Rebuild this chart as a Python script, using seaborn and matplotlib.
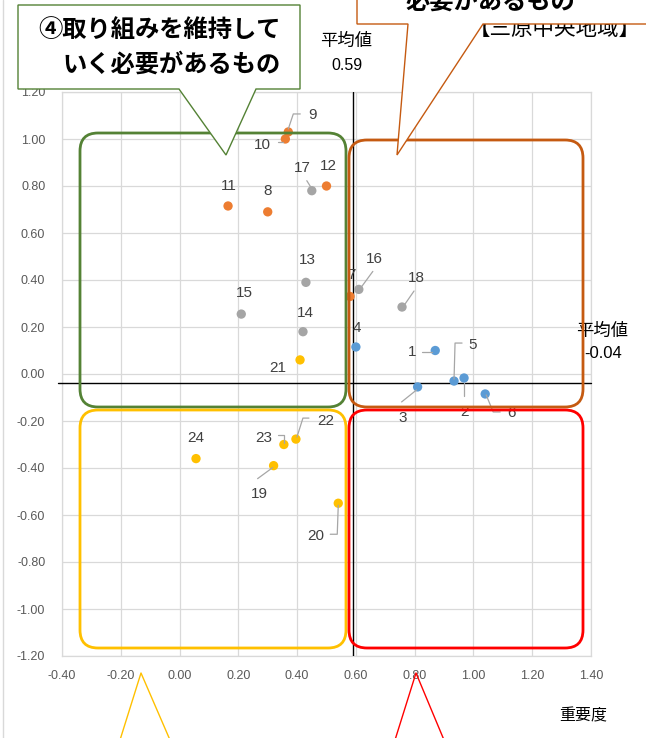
import numpy as np
import pandas as pd
import matplotlib
matplotlib.use("Agg")
import matplotlib.pyplot as plt
import seaborn as sns
from matplotlib.patches import FancyBboxPatch, Polygon
from matplotlib.lines import Line2D
from matplotlib.transforms import IdentityTransform

# ---------------- data ----------------
item_ids = [str(i) for i in range(1, 25)]
importance = [0.87, 0.968, 0.81, 0.60, 0.934, 1.04,
              0.58, 0.30, 0.37, 0.36, 0.165, 0.50,
              0.43, 0.42, 0.21, 0.61, 0.45, 0.757,
              0.32, 0.54, 0.41, 0.396, 0.355, 0.056]
satisfaction = [0.10, -0.017, -0.055, 0.115, -0.03, -0.085,
                0.33, 0.69, 1.03, 1.00, 0.715, 0.80,
                0.39, 0.18, 0.255, 0.36, 0.78, 0.285,
                -0.39, -0.55, 0.06, -0.277, -0.30, -0.36]
groups = ["A"] * 6 + ["B"] * 6 + ["C"] * 6 + ["D"] * 6
group_colors = {"A": "#5B9BD5", "B": "#ED7D31", "C": "#A5A5A5", "D": "#FFC000"}
mean_importance = 0.59
mean_satisfaction = -0.04
x_ticks = [-0.40, -0.20, 0.00, 0.20, 0.40, 0.60, 0.80, 1.00, 1.20, 1.40]
y_ticks = [-1.20, -1.00, -0.80, -0.60, -0.40, -0.20, 0.00, 0.20, 0.40, 0.60, 0.80, 1.00, 1.20]

df = pd.DataFrame({"id": item_ids, "x": importance, "y": satisfaction, "g": groups})

# label offsets in pixels (dx, dy with y downward) and leader polylines
label_off = {
    "9": (24, -17), "10": (-23, 6), "11": (1, -20), "8": (0, -21), "17": (-9, -23),
    "12": (2, -20), "13": (1, -22), "15": (3, -21), "14": (2, -19), "21": (-22, 8),
    "7": (1, -21), "16": (16, -30), "18": (14, -29), "4": (1, -19), "1": (-23, 2),
    "5": (19, -36), "2": (0, 34), "3": (-15, 31), "6": (26, 19), "24": (0, -21),
    "23": (-20, -7), "22": (30, -18), "19": (-14, 28), "20": (-23, 33),
}
leaders = {
    "9": [(0, -3), (5, -18), (12, -18)],
    "10": [(-7, 3), (-2, 3)],
    "17": [(-5, -10), (0, -2)],
    "16": [(14, -18), (3, -3)],
    "18": [(12, -16), (3, -3)],
    "1": [(-13, 1), (-3, 1)],
    "5": [(8, -38), (1, -38), (0, -2)],
    "2": [(0, 5), (0, 18)],
    "3": [(-1, 3), (-16, 15)],
    "6": [(1, 1), (8, 18), (15, 18)],
    "23": [(-6, -10), (0, -10), (0, -2)],
    "22": [(13, -21), (7, -21), (1, -2)],
    "19": [(-1, 2), (-16, 13)],
    "20": [(0, 2), (-1, 31), (-8, 31)],
}

# ---------------- figure ----------------
sns.set_theme(style="white")
plt.rcParams["font.family"] = ["Noto Sans CJK JP", "DejaVu Sans"]

W, H = 646, 738
fig = plt.figure(figsize=(W / 100, H / 100), dpi=100)
fig.patch.set_facecolor("white")
ax = fig.add_axes([62 / W, (H - 656) / H, 529 / W, 564 / H])
ax.set_xlim(-0.40, 1.40)
ax.set_ylim(-1.20, 1.20)

sns.scatterplot(data=df, x="x", y="y", hue="g", palette=group_colors, s=45,
                edgecolor="none", legend=False, ax=ax, zorder=5)

ax.set_xticks(x_ticks)
ax.set_yticks(y_ticks)
ax.set_xticklabels([f"{v:.2f}" for v in x_ticks])
ax.set_yticklabels([f"{v:.2f}" for v in y_ticks])
ax.tick_params(axis="both", length=0, labelsize=9, colors="#595959")
ax.tick_params(axis="x", pad=10)
ax.tick_params(axis="y", pad=12)
for lab in ax.get_xticklabels() + ax.get_yticklabels():
    lab.set_fontfamily(["Liberation Sans", "DejaVu Sans"])
ax.grid(True, color="#D9D9D9", lw=0.9)
ax.set_axisbelow(True)
for sp in ax.spines.values():
    sp.set_color("#D9D9D9")
    sp.set_linewidth(0.9)
ax.set_xlabel("")
ax.set_ylabel("")

ax.axvline(mean_importance, color="black", lw=1.0, zorder=3)
ax.plot([-0.415, 1.40], [mean_satisfaction, mean_satisfaction], color="black", lw=1.0,
        zorder=3, clip_on=False)

# labels and leaders
for _, r in df.iterrows():
    dx, dy = label_off[r["id"]]
    ax.annotate(r["id"], (r["x"], r["y"]), xytext=(dx * 0.72, -dy * 0.72),
                textcoords="offset points", ha="center", va="center",
                fontsize=11, color="#404040", zorder=6,
                fontfamily=["Liberation Sans", "DejaVu Sans"])
    if r["id"] in leaders:
        px, py = ax.transData.transform((r["x"], r["y"]))
        pts = leaders[r["id"]]
        xs = [px + a for a, b in pts]
        ys = [py - b for a, b in pts]
        fig.add_artist(Line2D(xs, ys, transform=IdentityTransform(), color="#A6A6A6",
                              lw=0.9, zorder=6))


def P(x, y):
    return (x, H - y)


def rbox(x0, y0, x1, y1, color, z):
    patch = FancyBboxPatch(P(x0, y1), x1 - x0, y1 - y0,
                           boxstyle="round,pad=0,rounding_size=18",
                           transform=IdentityTransform(), fill=False,
                           ec=color, lw=2.0, zorder=z)
    fig.add_artist(patch)


rbox(80, 133, 346, 407, "#548235", 7)
rbox(349, 140, 583, 407, "#C55A11", 7)
rbox(80, 410, 346, 648, "#FFC000", 7)
rbox(349, 410, 583, 648, "#FF0000", 7)

# mean value labels
fig.text(346 / W, 1 - 41 / H, "平均値", ha="center", va="center", fontsize=12.5, color="black")
fig.text(347 / W, 1 - 65 / H, "0.59", ha="center", va="center", fontsize=11.5, color="black",
         fontfamily=["Liberation Sans", "DejaVu Sans"])
fig.text(602 / W, 1 - 331 / H, "平均値", ha="center", va="center", fontsize=12.5, color="black")
fig.text(603 / W, 1 - 353 / H, "-0.04", ha="center", va="center", fontsize=12, color="black",
         fontfamily=["Liberation Sans", "DejaVu Sans"])
fig.text(583 / W, 1 - 716 / H, "重要度", ha="center", va="center", fontsize=11.5, color="black")

# region title (partly hidden by callout)
fig.text(555 / W, 1 - 29 / H, "【三原中央地域】", ha="center", va="center", fontsize=15.5,
         color="black", zorder=1)

# green callout
green_poly = [P(18, 5), P(300, 5), P(300, 89), P(256, 89), P(226, 155), P(179, 89), P(18, 89)]
fig.add_artist(Polygon(green_poly, closed=True, transform=IdentityTransform(),
                       fc="white", ec="#548235", lw=1.0, zorder=10))
fig.text(160 / W, 1 - 30 / H, "④取り組みを維持して", ha="center", va="center",
         fontsize=17.5, fontweight="bold", color="black", zorder=11)
fig.text(172 / W, 1 - 65 / H, "いく必要があるもの", ha="center", va="center",
         fontsize=17.5, fontweight="bold", color="black", zorder=11)

# orange callout (mostly outside the picture)
orange_poly = [P(357, -40), P(660, -40), P(660, 24), P(483, 24), P(397, 155), P(408, 24), P(357, 24)]
fig.add_artist(Polygon(orange_poly, closed=True, transform=IdentityTransform(),
                       fc="white", ec="#C55A11", lw=1.0, zorder=10))
fig.text(490 / W, 1 - 2 / H, "必要があるもの", ha="center", va="center",
         fontsize=17.5, fontweight="bold", color="black", zorder=11)

# bottom callout pointers
fig.add_artist(Line2D([120, 141, 170], [H - 740, H - 673, H - 740], transform=IdentityTransform(),
                      color="#FFC000", lw=1.0, zorder=10))
fig.add_artist(Line2D([395, 416, 444], [H - 740, H - 673, H - 740], transform=IdentityTransform(),
                      color="#FF0000", lw=1.0, zorder=10))

# chart frame edge
fig.add_artist(Line2D([3, 3], [0, H], transform=IdentityTransform(), color="#D9D9D9", lw=1.0))

fig.savefig("out.png", dpi=100)
